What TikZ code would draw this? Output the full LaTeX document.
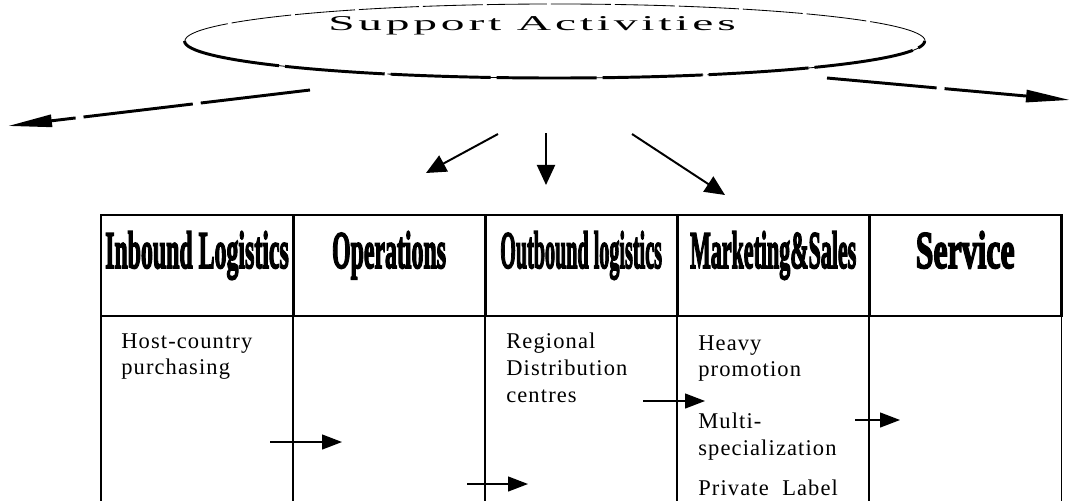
\documentclass[tikz,border=0pt]{standalone}
\usepackage{fontspec}
\setmainfont{Liberation Serif}
\newfontfamily\headfont[BoldFeatures={FakeBold=3.5}]{Liberation Serif}
\newfontfamily\widefont[LetterSpace=8]{Liberation Serif}
\newfontfamily\bodyfont[LetterSpace=5]{Liberation Serif}
\usetikzlibrary{positioning,shapes.geometric,arrows.meta}

\tikzset{
    cell/.style={draw, rectangle, outer sep=0pt, inner sep=0pt, minimum width=4.8cm},
    headcell/.style={cell, line width=2.1pt, minimum height=2.525cm, text height=0.95cm, text depth=0.825cm,
        font=\headfont\bfseries\fontsize{37.7}{40}\selectfont},
    bodycell/.style={cell, line width=1pt, minimum height=5.1cm},
    bodytxt/.style={inner sep=0pt, anchor=north west, align=left, font=\bodyfont\fontsize{16}{19}\selectfont},
    flow/.style={-{Triangle[length=0.5cm, width=0.375cm]}, line width=0.9pt},
    bigarrow/.style={-{Triangle[length=1.1cm, width=0.3cm]}, line width=2.1pt, dash pattern=on 2.75cm off 0.2cm},
    downarrow/.style={-{Triangle[length=0.5cm, width=0.45cm]}, line width=1.4pt}
}

\begin{document}
\begin{tikzpicture}[x=0.025cm, y=-0.025cm]
    \useasboundingbox (0,0) rectangle (1070,500);
    \clip (0,0) rectangle (1070,500);

    % Support activities
    \node[ellipse, draw, inner sep=0pt, minimum width=18.5cm, minimum height=1.85cm,
        line width=0.6pt, dash pattern=on 1.5cm off 0.1cm] (support) at (555,41) {};
    \draw[line width=2.1pt, dash pattern=on 2.5cm off 0.15cm] (support.west)
        arc[start angle=180, end angle=360, x radius=9.25cm, y radius=0.925cm];
    \node[font=\widefont\fontsize{15}{18}\selectfont] (suptxt) at (532,26) {\scalebox{2.25}[1]{Support Activities}};

    % Primary activities
    \node[headcell] (hin) at (197,265.5) {\scalebox{0.45}[1]{Inbound Logistics}};
    \node[headcell, right=0pt of hin] (hop) {\scalebox{0.45}[1]{Operations}};
    \node[headcell, right=0pt of hop] (hout) {\scalebox{0.38}[1]{Outbound logistics}};
    \node[headcell, right=0pt of hout] (hmkt) {\scalebox{0.415}[1]{Marketing\&Sales}};
    \node[headcell, right=0pt of hmkt] (hsvc) {\scalebox{0.6}[1]{Service}};

    \node[bodycell, below=0pt of hin] (bin) {};
    \node[bodycell, below=0pt of hop] (bop) {};
    \node[bodycell, below=0pt of hout] (bout) {};
    \node[bodycell, below=0pt of hmkt] (bmkt) {};
    \node[bodycell, below=0pt of hsvc] (bsvc) {};

    % Cell texts
    \node[bodytxt] (hostbuy) at (121,333) {Host-country\\purchasing};
    \node[bodytxt] (regdist) at (506,333) {Regional\\Distribution\\centres};
    \node[bodytxt] (heavy) at (698,335) {Heavy\\promotion};
    \node[bodytxt] (multi) at (698,413) {Multi-\\specialization};
    \node[bodytxt] (private) at (698,480) {Private\ \ Label};

    % Arrow ends
    \coordinate (lfrom) at (310,90);
    \coordinate (lto) at (8,126);
    \coordinate (rfrom) at (827,78);
    \coordinate (rto) at (1070,100);
    \coordinate (d1a) at (498,134);
    \coordinate (d1b) at (426,173);
    \coordinate (d2a) at (546,133);
    \coordinate (d2b) at (546,185);
    \coordinate (d3a) at (632,134);
    \coordinate (d3b) at (725,195);
    \coordinate (f1a) at (270,442);
    \coordinate (f1b) at (342,442);
    \coordinate (f2a) at (467,484);
    \coordinate (f2b) at (528,484);
    \coordinate (f3a) at (643,401);
    \coordinate (f3b) at (705,401);
    \coordinate (f4a) at (855,420);
    \coordinate (f4b) at (900,420);

    % Arrows
    \draw[bigarrow] (lfrom) -- (lto);
    \draw[bigarrow] (rfrom) -- (rto);
    \draw[downarrow] (d1a) -- (d1b);
    \draw[downarrow] (d2a) -- (d2b);
    \draw[downarrow] (d3a) -- (d3b);
    \draw[flow] (f1a) -- (f1b);
    \draw[flow] (f2a) -- (f2b);
    \draw[flow] (f3a) -- (f3b);
    \draw[flow] (f4a) -- (f4b);
\end{tikzpicture}
\end{document}
